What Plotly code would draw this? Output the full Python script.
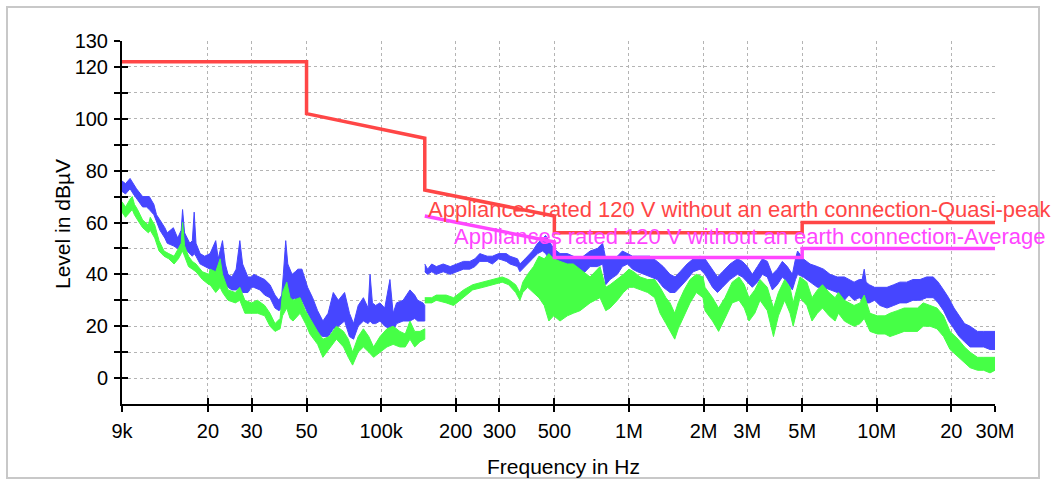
import math
import plotly.graph_objects as go

# ---- Measured spectra (frequency in kHz, upper / lower envelope in dBuV) ----
# Sweep 1: 9 kHz - 150 kHz
blue1_f = [9.0, 9.3, 9.7, 10.0, 10.3, 10.9, 11.3, 11.6, 12.1, 12.4, 12.8, 13.4, 13.7, 14.5, 15.1, 15.6,
           15.8, 16.1, 16.9, 17.3, 17.6, 17.9, 18.6, 19.4, 20.4, 21.0, 21.5, 22.0, 22.9, 23.5, 24.1,
           25.0, 26.0, 26.9, 27.6, 29.0, 30.0, 30.6, 32.4, 33.9, 35.6, 37.3, 38.7, 39.7, 40.3, 41.2,
           42.0, 43.7, 45.0, 46.1, 47.9, 50.5, 52.9, 55.4, 58.2, 61.1, 64.1, 67.2, 71.2, 74.5, 77.4,
           80.8, 84.8, 88.6, 90.2, 92.2, 95.0, 98.9, 103.4, 108.5, 111.8, 115.4, 122.6, 130.7, 136.6,
           140.4, 147.5, 150.0]
blue1_hi = [76, 75, 77, 75, 73, 70, 70, 70, 67, 63, 61, 58, 56, 58, 54, 57,
            65, 56, 52, 53, 64, 52, 48, 47, 48, 51, 53, 46, 53, 44, 40,
            39, 42, 53, 44, 39, 39, 40, 39, 38, 36, 32, 30, 32, 40, 53,
            44, 40, 41, 42, 42, 35, 31, 26, 22, 25, 33, 30, 33, 25, 21,
            28, 31, 27, 40, 29, 28, 29, 27, 38, 25, 29, 30, 34, 32,
            30, 29, 28]
blue1_lo = [72, 71, 73, 71, 69, 66, 66, 65, 63, 60, 57, 54, 52, 51, 50, 50,
            52, 50, 48, 47, 48, 47, 44, 43, 42, 40, 40, 37, 38, 36, 35,
            34, 34, 35, 33, 33, 35, 35, 34, 32, 31, 27, 26, 27, 28, 30,
            30, 30, 31, 27, 30, 25, 21, 17, 16, 16, 19, 20, 22, 16, 15,
            20, 22, 21, 22, 21, 21, 22, 20, 19, 18, 21, 22, 22, 23,
            22, 22, 22]

green1_f = [9.0, 9.3, 9.7, 9.9, 10.1, 10.4, 10.9, 11.5, 11.7, 12.2, 12.7, 13.3, 13.9, 14.6, 15.2,
            15.6, 15.8, 16.1, 16.7, 17.3, 17.9, 19.0, 20.2, 20.4, 21.5, 22.4, 22.9, 24.1, 25.8,
            26.9, 28.2, 30.0, 31.7, 33.9, 35.6, 37.3, 39.1, 40.0, 41.6, 42.9, 44.1, 47.1, 49.5,
            51.6, 55.4, 58.2, 61.7, 66.0, 70.5, 73.7, 76.7, 80.8, 84.8, 89.2, 93.2, 98.9, 105.5,
            111.8, 119.0, 125.1, 130.7, 136.6, 143.5, 150.0]
green1_hi = [68, 66, 69, 70, 67, 65, 61, 59, 62, 59, 53, 49, 48, 47, 50,
             52, 60, 51, 47, 45, 44, 41, 40, 42, 41, 46, 40, 34, 33,
             35, 30, 29, 30, 28, 25, 21, 23, 33, 37, 31, 30, 31, 26,
             23, 18, 15, 16, 20, 18, 15, 10, 16, 19, 16, 12, 16, 19,
             20, 18, 17, 22, 18, 18, 19]
green1_lo = [64, 62, 64, 65, 63, 61, 58, 56, 57, 54, 49, 47, 46, 44, 46,
             48, 49, 47, 43, 42, 41, 38, 36, 36, 33, 35, 33, 30, 29,
             30, 25, 25, 25, 24, 20, 18, 19, 24, 27, 23, 22, 25, 21,
             17, 13, 8, 11, 15, 12, 8, 5, 10, 12, 10, 8, 10, 12,
             13, 12, 12, 15, 12, 14, 15]

# Sweep 2: 150 kHz - 30 MHz
blue2_f = [150, 154, 160, 167, 178, 190, 202, 215, 228, 239, 250, 268, 281, 298, 320, 331, 355, 363,
           381, 408, 428, 448, 461, 475, 497, 527, 564, 596, 635, 697, 746, 783, 806, 839, 898, 941,
           987, 1034, 1083, 1146, 1216, 1300, 1375, 1465, 1535, 1607, 1716, 1817, 1936, 2027, 2174,
           2276, 2385, 2558, 2740, 2870, 3005, 3147, 3298, 3453, 3617, 3790, 3970, 4160, 4357, 4565,
           4700, 4790, 5050, 5380, 5760, 6100, 6480, 6930, 7400, 7720, 8100, 8500, 8730, 8900, 9060,
           9330, 9800, 10300, 11000, 11700, 12400, 13200, 14000, 14950, 15900, 16900, 17700, 18600,
           19500, 20500, 21500, 22600, 23800, 25500, 27000, 28650, 30000]
blue2_hi = [44, 42, 44, 43, 44, 43, 44, 45, 45, 46, 48, 47, 47, 48, 48, 47, 46, 44,
            46, 49, 52, 54, 55, 53, 50, 48, 48, 47, 46, 49, 50, 52, 46, 46, 47, 49,
            48, 47, 47, 47, 47, 45, 43, 40, 39, 41, 44, 46, 47, 46, 42,
            39, 41, 44, 46, 45, 43, 40, 43, 46, 45, 40, 42, 45, 43, 40,
            46, 49, 46, 44, 43, 42, 40, 39, 39, 38, 37, 38, 38, 42, 37,
            36, 35, 35, 35, 36, 37, 37, 38, 38, 39, 39, 37, 34,
            31, 27, 24, 21, 20, 18, 18, 18, 18]
blue2_lo = [41, 40, 41, 40, 41, 40, 41, 42, 42, 43, 45, 45, 44, 46, 45, 44, 43, 41,
            43, 46, 48, 49, 48, 46, 42, 39, 38, 39, 39, 43, 43, 44, 36, 38, 40, 43,
            44, 42, 41, 40, 39, 38, 35, 33, 33, 35, 38, 41, 42, 40, 35,
            33, 35, 38, 40, 39, 37, 35, 37, 40, 39, 34, 36, 39, 37, 34,
            38, 40, 39, 37, 35, 35, 34, 33, 30, 32, 30, 31, 30, 30, 29,
            29, 30, 28, 27, 28, 29, 29, 30, 30, 31, 31, 29, 26,
            22, 19, 16, 14, 12, 12, 12, 11, 11]

green2_f = [150, 160, 167, 183, 196, 215, 234, 258, 284, 308, 327, 349, 363, 373, 390, 412, 433, 455,
            475, 497, 527, 564, 596, 635, 697, 764, 806, 839, 898, 950, 1000, 1045, 1108, 1190, 1270,
            1335, 1410, 1465, 1530, 1580, 1670, 1764, 1870, 1990, 2027, 2174, 2300, 2440, 2610, 2780,
            2920, 3050, 3220, 3380, 3617, 3830, 4010, 4250, 4467, 4600, 4900, 5220, 5480, 5760, 6040,
            6420, 6790, 7000, 7400, 7720, 8100, 8560, 8900, 9390, 10060, 10800, 11300, 12100, 12900,
            13600, 14600, 15400, 16400, 17500, 18600, 19760, 21300, 22600, 23800, 25500, 27000, 28650,
            30000]
green2_hi = [31, 31, 32, 32, 31, 34, 36, 37, 38, 39, 38, 36, 33, 37, 40, 43, 47, 46,
             48, 46, 45, 44, 44, 42, 39, 43, 35, 36, 38, 40, 42, 41, 39, 38, 38,
             35, 31, 29, 25, 29, 34, 38, 40, 39, 35, 31, 27, 31, 37, 39,
             36, 31, 34, 38, 35, 27, 33, 38, 35, 29, 39, 37, 31, 34, 36,
             33, 31, 33, 30, 29, 28, 29, 32, 25, 24, 24, 25, 26, 27,
             27, 27, 29, 28, 27, 24, 18, 15, 12, 10, 8, 8, 8,
             8]
green2_lo = [29, 29, 30, 29, 28, 31, 34, 35, 36, 37, 36, 33, 30, 33, 35, 33, 31, 28,
             22, 24, 22, 24, 25, 26, 29, 31, 26, 27, 30, 33, 35, 35, 34, 33, 31,
             25, 21, 18, 15, 19, 24, 29, 33, 31, 26, 22, 18, 23, 29, 30,
             27, 22, 25, 30, 26, 16, 24, 30, 25, 20, 31, 28, 22, 25, 27,
             24, 22, 25, 22, 21, 20, 21, 23, 18, 17, 17, 16, 17, 18,
             18, 18, 20, 20, 19, 16, 11, 8, 6, 4, 3, 3, 2,
             3]

# ---- Limit lines (frequency in Hz, level in dBuV) ----
qp_limit_f = [9e3, 50e3, 50e3, 150e3, 150e3, 500e3, 500e3, 5e6, 5e6, 30e6]
qp_limit_l = [122, 122, 102, 92.5, 72.5, 62.5, 56, 56, 60, 60]
av_limit_f = [150e3, 500e3, 500e3, 5e6, 5e6, 30e6]
av_limit_l = [62.5, 52.5, 46.5, 46.5, 50, 50]

qp_label = "Appliances rated 120 V without an earth connection-Quasi-peak"
av_label = "Appliances rated 120 V without an earth connection-Average"

# ---- Axis ticks ----
x_tick_vals = [9e3, 2e4, 3e4, 5e4, 1e5, 2e5, 3e5, 5e5, 1e6, 2e6, 3e6, 5e6, 1e7, 2e7, 3e7]
x_tick_text = ["9k", "20", "30", "50", "100k", "200", "300", "500", "1M", "2M", "3M", "5M", "10M", "20", "30M"]
y_tick_vals = [0, 10, 20, 30, 40, 50, 60, 70, 80, 90, 100, 110, 120, 130]
y_tick_text = ["0", "", "20", "", "40", "", "60", "", "80", "", "100", "", "120", "130"]

BLUE = "#4646ff"
GREEN = "#46ff46"
RED = "#ff4646"
MAGENTA = "#ff46ff"
FONT = "Liberation Sans, Arial, sans-serif"

# plot area in pixels (used only to place the frame and axis titles)
PL, PR, PT, PB = 122, 995, 41, 404
PW, PH = PR - PL, PB - PT


def band(f_khz, hi, lo, color):
    """Closed polygon between the upper and lower envelope of a sweep."""
    xs = [v * 1e3 for v in f_khz] + [v * 1e3 for v in reversed(f_khz)]
    ys = list(hi) + list(reversed(lo))
    return go.Scatter(x=xs, y=ys, mode="lines", fill="toself", fillcolor=color,
                      line=dict(color=color, width=1), hoverinfo="skip", showlegend=False)


fig = go.Figure()
fig.add_trace(band(blue1_f, blue1_hi, blue1_lo, BLUE))
fig.add_trace(band(blue2_f, blue2_hi, blue2_lo, BLUE))
fig.add_trace(band(green1_f, green1_hi, green1_lo, GREEN))
fig.add_trace(band(green2_f, green2_hi, green2_lo, GREEN))
fig.add_trace(go.Scatter(x=av_limit_f, y=av_limit_l, mode="lines",
                         line=dict(color=MAGENTA, width=3.5), showlegend=False, hoverinfo="skip"))
fig.add_trace(go.Scatter(x=qp_limit_f, y=qp_limit_l, mode="lines",
                         line=dict(color=RED, width=3.5), showlegend=False, hoverinfo="skip"))

fig.add_annotation(x=math.log10(151e3), y=65.0, xref="x", yref="y", text=qp_label,
                   showarrow=False, xanchor="left", yanchor="middle",
                   font=dict(family=FONT, size=22, color=RED))
fig.add_annotation(x=math.log10(194e3), y=54.5, xref="x", yref="y", text=av_label,
                   showarrow=False, xanchor="left", yanchor="middle",
                   font=dict(family=FONT, size=22, color=MAGENTA))

# axis titles
fig.add_annotation(x=(563 - PL) / PW, y=(PB - 466) / PH, xref="paper", yref="paper",
                   text="Frequency in Hz", showarrow=False, xanchor="center", yanchor="middle",
                   font=dict(family=FONT, size=21, color="black"))
fig.add_annotation(x=(62 - PL) / PW, y=(PB - 224) / PH, xref="paper", yref="paper",
                   text="Level in dB\u00b5V", showarrow=False, textangle=-90,
                   xanchor="center", yanchor="middle",
                   font=dict(family=FONT, size=21, color="black"))

axis_common = dict(showline=True, linecolor="black", linewidth=2, ticks="outside",
                   tickcolor="black", tickwidth=2, ticklen=6, automargin=False,
                   showgrid=True, gridcolor="#b4b4b4", gridwidth=1, griddash="dot",
                   zeroline=False, tickfont=dict(family=FONT, size=20, color="black"),
                   mirror=False)

fig.update_layout(
    width=1055, height=479,
    margin=dict(l=PL, r=1055 - PR, t=PT, b=479 - PB, autoexpand=False),
    paper_bgcolor="white", plot_bgcolor="white",
    font=dict(family=FONT, color="black"),
    xaxis=dict(type="log", range=[math.log10(9e3), math.log10(30e6)],
               tickmode="array", tickvals=x_tick_vals, ticktext=x_tick_text,
               ticklabelstandoff=2, **axis_common),
    yaxis=dict(range=[-10, 130], tickmode="array", tickvals=y_tick_vals, ticktext=y_tick_text,
               ticklabelstandoff=2, **axis_common),
    # inner halves of the tick marks, so ticks cross the axis lines
    xaxis2=dict(type="log", range=[math.log10(9e3), math.log10(30e6)], overlaying="x",
                anchor="y", side="bottom", tickmode="array", tickvals=x_tick_vals,
                ticks="inside", ticklen=6, tickwidth=2, tickcolor="black", automargin=False,
                showticklabels=False, showgrid=False, showline=False, zeroline=False),
    yaxis2=dict(range=[-10, 130], overlaying="y", anchor="x", side="left",
                tickmode="array", tickvals=y_tick_vals, ticks="inside", ticklen=6,
                tickwidth=2, tickcolor="black", showticklabels=False, showgrid=False,
                showline=False, zeroline=False, automargin=False),
    shapes=[dict(type="rect", xref="paper", yref="paper",
                 x0=(7 - PL) / PW, x1=(1039 - PL) / PW,
                 y0=(PB - 478) / PH, y1=(PB - 7) / PH,
                 line=dict(color="#c8c8c8", width=2), fillcolor="rgba(0,0,0,0)", layer="below")],
)
# invisible carrier so the overlay axes are drawn
fig.add_trace(go.Scatter(x=[9e3], y=[-10], xaxis="x2", yaxis="y2", mode="markers",
                         marker=dict(opacity=0), showlegend=False, hoverinfo="skip"))

fig.write_html("out.html")
